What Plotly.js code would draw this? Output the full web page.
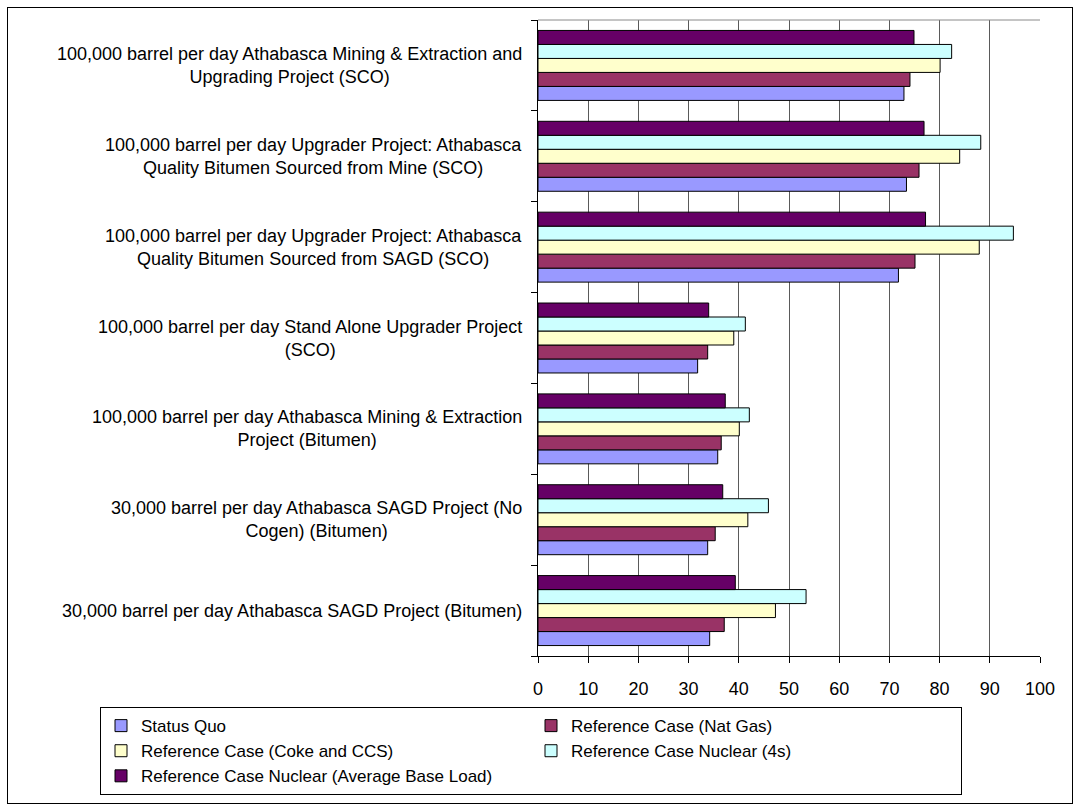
<!DOCTYPE html>
<html>
<head>
<meta charset="utf-8">
<script src="https://cdn.plot.ly/plotly-3.0.1.min.js"></script>
<style>
  html, body { margin: 0; padding: 0; background: #fff; }
  #chart { width: 1076px; height: 810px; }
  #frame { position: absolute; left: 7px; top: 7px; width: 1064px; height: 795px; border: 1px solid #000; pointer-events: none; }
</style>
</head>
<body>
<div id="chart"></div>
<div id="frame"></div>
<script>
// Categories, bottom to top
const categories = [
  "30,000 barrel per day Athabasca SAGD Project (Bitumen)",
  "30,000 barrel per day Athabasca SAGD Project (No Cogen) (Bitumen)",
  "100,000 barrel per day Athabasca Mining & Extraction Project (Bitumen)",
  "100,000 barrel per day Stand Alone Upgrader Project (SCO)",
  "100,000 barrel per day Upgrader Project: Athabasca Quality Bitumen Sourced from SAGD (SCO)",
  "100,000 barrel per day Upgrader Project: Athabasca Quality Bitumen Sourced from Mine (SCO)",
  "100,000 barrel per day Athabasca Mining & Extraction and Upgrading Project (SCO)"
];
const categoryLabels = [
  "30,000 barrel per day Athabasca SAGD Project (Bitumen)",
  "30,000 barrel per day Athabasca SAGD Project (No<br>Cogen) (Bitumen)",
  "100,000 barrel per day Athabasca Mining & Extraction<br>Project (Bitumen)",
  "100,000 barrel per day Stand Alone Upgrader Project<br>(SCO)",
  "100,000 barrel per day Upgrader Project: Athabasca<br>Quality Bitumen Sourced from SAGD (SCO)",
  "100,000 barrel per day Upgrader Project: Athabasca<br>Quality Bitumen Sourced from Mine (SCO)",
  "100,000 barrel per day Athabasca Mining & Extraction and<br>Upgrading Project (SCO)"
];

const seriesNames = [
  "Status Quo",
  "Reference Case (Nat Gas)",
  "Reference Case (Coke and CCS)",
  "Reference Case Nuclear (4s)",
  "Reference Case Nuclear (Average Base Load)"
];
const statusQuo      = [34.2, 33.8, 35.8, 31.8, 71.8, 73.4, 72.9];
const refNatGas      = [37.1, 35.3, 36.5, 33.8, 75.1, 75.9, 74.1];
const refCokeCCS     = [47.3, 41.8, 40.1, 39.0, 87.9, 84.0, 80.1];
const refNuclear4s   = [53.4, 45.9, 42.1, 41.3, 94.7, 88.2, 82.4];
const refNuclearAvg  = [39.3, 36.8, 37.3, 34.0, 77.2, 76.9, 74.9];
const seriesValues = [statusQuo, refNatGas, refCokeCCS, refNuclear4s, refNuclearAvg];
const seriesColors = ["#9999FF", "#993366", "#FFFFCC", "#CCFFFF", "#660066"];

const xTicks = [0, 10, 20, 30, 40, 50, 60, 70, 80, 90, 100];

const FONT = "Liberation Sans, Arial, sans-serif";

const traces = seriesNames.map((name, i) => ({
  type: "bar",
  orientation: "h",
  name: name,
  x: seriesValues[i],
  y: categories,
  marker: { color: seriesColors[i], line: { color: "#000", width: 1 } },
  hoverinfo: "x+name"
}));

const annotations = categories.map((c, i) => ({
  xref: "paper", yref: "y",
  x: 0, y: c,
  xanchor: "right", yanchor: "middle",
  xshift: -14,
  text: categoryLabels[i],
  align: "center",
  showarrow: false,
  font: { family: FONT, size: 18, color: "#000" }
}));

const layout = {
  width: 1076, height: 810,
  margin: { l: 538, r: 36, t: 20, b: 154, pad: 0, autoexpand: false },
  paper_bgcolor: "#fff",
  plot_bgcolor: "#fff",
  barmode: "group",
  bargap: 0.23,
  bargroupgap: 0,
  font: { family: FONT, size: 18, color: "#000" },
  xaxis: {
    range: [0, 100],
    tickvals: xTicks,
    ticktext: xTicks.map(String),
    showgrid: true, gridcolor: "#5a5a5a", gridwidth: 1,
    zeroline: false,
    showline: true, linecolor: "#000", linewidth: 1,
    ticks: "outside", ticklen: 6, tickcolor: "#000",
    ticklabelstandoff: 10,
    tickfont: { family: FONT, size: 18, color: "#000" },
    fixedrange: true
  },
  yaxis: {
    type: "category",
    categoryorder: "array",
    categoryarray: categories,
    showticklabels: false,
    tickson: "boundaries",
    ticks: "outside", ticklen: 6, tickcolor: "#000",
    showline: true, linecolor: "#000", linewidth: 1,
    showgrid: false, zeroline: false,
    fixedrange: true
  },
  shapes: [
    { type: "line", xref: "paper", yref: "paper", x0: 0, x1: 1, y0: 1, y1: 1, line: { color: "#8a8a8a", width: 1 } }
  ],
  annotations: annotations,
  showlegend: true,
  legend: {
    orientation: "h",
    x: -0.8725, xanchor: "left",
    y: -0.0803, yanchor: "top",
    entrywidth: 385, entrywidthmode: "pixels",
    bordercolor: "#000", borderwidth: 1,
    bgcolor: "#fff",
    font: { family: FONT, size: 17, color: "#000" },
    itemwidth: 30,
    traceorder: "normal"
  }
};

Plotly.newPlot("chart", traces, layout, { displayModeBar: false, staticPlot: true });
</script>
</body>
</html>
